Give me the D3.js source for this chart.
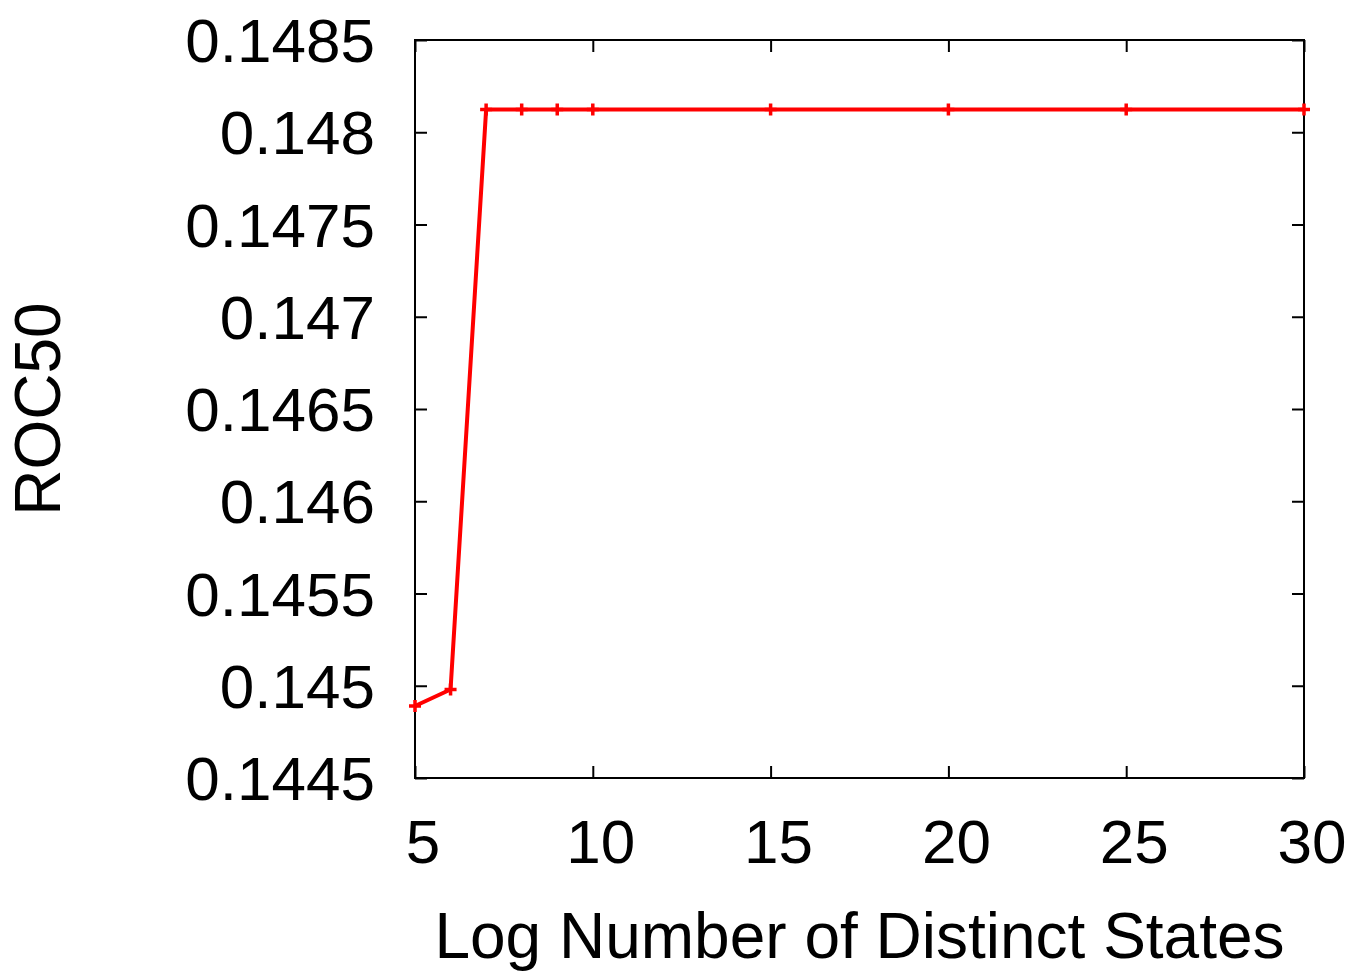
<!DOCTYPE html>
<html>
<head>
<meta charset="utf-8">
<script src="https://cdn.jsdelivr.net/npm/d3@7"></script>
<style>
  body { margin: 0; background: #fff; }
  svg { display: block; font-family: "Liberation Sans", Arial, sans-serif; }
</style>
</head>
<body>
<div id="chart"></div>
<script>
// values
const logStates = [5, 6, 7, 8, 9, 10, 15, 20, 25, 30];
const roc50 = [0.14489, 0.14498, 0.148123, 0.148123, 0.148123, 0.148123, 0.148123, 0.148123, 0.148123, 0.148123];
const xTicks = [5, 10, 15, 20, 25, 30];
const yTicks = [0.1445, 0.145, 0.1455, 0.146, 0.1465, 0.147, 0.1475, 0.148, 0.1485];
const yTickLabels = ['0.1445', '0.145', '0.1455', '0.146', '0.1465', '0.147', '0.1475', '0.148', '0.1485'];

const width = 1350;
const height = 971;
const plot = { left: 415, right: 1304, top: 40, bottom: 778 };

const svg = d3.select('#chart')
  .append('svg')
  .attr('width', width)
  .attr('height', height);

const x = d3.scaleLinear().domain([5, 30]).range([plot.left, plot.right]);
const y = d3.scaleLinear().domain([0.1445, 0.1485]).range([plot.bottom, plot.top]);

const tickLen = 12;

// frame with inward ticks on all four sides
function styleAxis(g) {
  g.select('.domain').remove();
  g.selectAll('.tick line').attr('stroke', '#000').attr('stroke-width', 2);
}

svg.append('g')
  .attr('transform', `translate(0,${plot.bottom})`)
  .call(d3.axisBottom(x).tickValues(xTicks).tickSize(-tickLen).tickFormat(''))
  .call(styleAxis);
svg.append('g')
  .attr('transform', `translate(0,${plot.top})`)
  .call(d3.axisTop(x).tickValues(xTicks).tickSize(-tickLen).tickFormat(''))
  .call(styleAxis);
svg.append('g')
  .attr('transform', `translate(${plot.left},0)`)
  .call(d3.axisLeft(y).tickValues(yTicks).tickSize(-tickLen).tickFormat(''))
  .call(styleAxis);
svg.append('g')
  .attr('transform', `translate(${plot.right},0)`)
  .call(d3.axisRight(y).tickValues(yTicks).tickSize(-tickLen).tickFormat(''))
  .call(styleAxis);

svg.append('rect')
  .attr('x', plot.left)
  .attr('y', plot.top)
  .attr('width', plot.right - plot.left)
  .attr('height', plot.bottom - plot.top)
  .attr('fill', 'none')
  .attr('stroke', '#000')
  .attr('stroke-width', 2);

// tick labels
svg.append('g')
  .selectAll('text')
  .data(xTicks)
  .join('text')
  .attr('x', (d) => x(d) + 8)
  .attr('y', 863)
  .attr('text-anchor', 'middle')
  .attr('font-size', 62)
  .text((d) => d);

svg.append('g')
  .selectAll('text')
  .data(yTicks)
  .join('text')
  .attr('x', 375)
  .attr('y', (d) => y(d) + 22)
  .attr('text-anchor', 'end')
  .attr('font-size', 62)
  .text((d, i) => yTickLabels[i]);

// axis titles
svg.append('text')
  .attr('x', (plot.left + plot.right) / 2)
  .attr('y', 958)
  .attr('text-anchor', 'middle')
  .attr('font-size', 64)
  .text('Log Number of Distinct States');

svg.append('text')
  .attr('transform', `translate(60,${(plot.top + plot.bottom) / 2}) rotate(-90)`)
  .attr('text-anchor', 'middle')
  .attr('font-size', 64)
  .text('ROC50');

// series
const pts = logStates.map((d, i) => ({ x: d, y: roc50[i] }));

svg.append('path')
  .datum(pts)
  .attr('fill', 'none')
  .attr('stroke', '#ff0000')
  .attr('stroke-width', 4)
  .attr('stroke-linejoin', 'round')
  .attr('d', d3.line().x((d) => x(d.x)).y((d) => y(d.y)));

const s = 6;
svg.append('g')
  .selectAll('path')
  .data(pts)
  .join('path')
  .attr('fill', 'none')
  .attr('stroke', '#ff0000')
  .attr('stroke-width', 3.5)
  .attr('d', (d) => {
    const cx = x(d.x), cy = y(d.y);
    return `M${cx - s},${cy}H${cx + s}M${cx},${cy - s}V${cy + s}`;
  });
</script>
</body>
</html>
